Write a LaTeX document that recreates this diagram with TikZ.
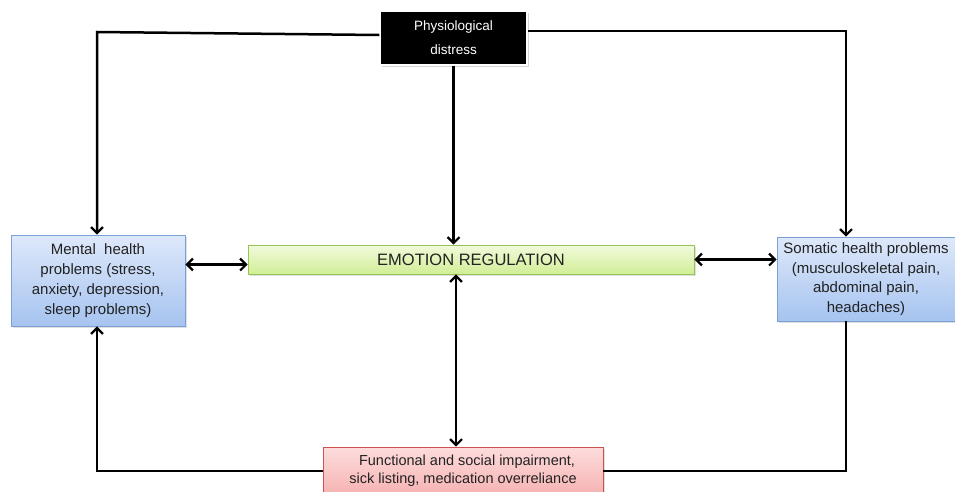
\documentclass[tikz,border=0pt]{standalone}
\usepackage{fontspec}
\setmainfont{Liberation Sans}
\usetikzlibrary{arrows.meta,shadows}
\definecolor{txt}{HTML}{222222}
\tikzset{
  box/.style={rectangle, draw, line width=0.8pt, align=center, text=txt, inner sep=0pt,
     drop shadow={opacity=0.25, shadow xshift=1.5pt, shadow yshift=-1.5pt}},
  bluebox/.style={box, draw={rgb,255:red,122;green,160;blue,214},
     top color={rgb,255:red,222;green,232;blue,250}, bottom color={rgb,255:red,166;green,196;blue,240}},
  greenbox/.style={box, draw={rgb,255:red,150;green,196;blue,84},
     top color={rgb,255:red,242;green,250;blue,220}, bottom color={rgb,255:red,208;green,238;blue,150}},
  redbox/.style={box, draw={rgb,255:red,204;green,82;blue,82},
     top color={rgb,255:red,253;green,220;blue,220}, bottom color={rgb,255:red,246;green,178;blue,178}},
  blackbox/.style={rectangle, fill=black, draw=white, line width=1.2pt, text=white, align=center, inner sep=0pt,
     drop shadow={opacity=0.35, shadow xshift=1.5pt, shadow yshift=-1.5pt}},
  conn/.style={line width=2.5pt, black},
  arr/.style={conn, -{Straight Barb[length=6pt,width=12pt,line width=2.2pt]}},
  darr/.style={conn, {Straight Barb[length=6pt,width=12pt,line width=2.2pt]}-{Straight Barb[length=6pt,width=12pt,line width=2.2pt]}},
}
\begin{document}
\begin{tikzpicture}[x=1pt,y=-1pt]
\useasboundingbox (0,0) rectangle (955,491);
\node[blackbox, minimum width=147pt, minimum height=54pt, font=\fontsize{13.5}{24}\selectfont] (physio) at (453.5,38)
  {Physiological\\ distress};
\node[bluebox, minimum width=174pt, minimum height=91pt, font=\fontsize{15}{20}\selectfont] (mental) at (98,280.5)
  {Mental\ \ health\\ problems (stress,\\ anxiety, depression,\\ sleep problems)};
\node[greenbox, minimum width=446pt, minimum height=29pt, font=\fontsize{16.5}{20}\selectfont] (emotion) at (471,259.5)
  {EMOTION REGULATION};
\node[bluebox, minimum width=178pt, minimum height=84pt, font=\fontsize{15}{19.5}\selectfont] (somatic) at (866,279)
  {Somatic health problems\\ (musculoskeletal pain,\\ abdominal pain,\\ headaches)};
\node[redbox, minimum width=280pt, minimum height=48pt, font=\fontsize{14.5}{18}\selectfont] (functional) at (463,471)
  {\ \ Functional and social impairment,\\ sick listing, medication overreliance};
\coordinate (tl) at (97,32);
% connectors
\draw[arr] ([yshift=3pt]physio.west) -- (tl) -- (tl |- mental.north);
\draw[arr] ([yshift=7pt]physio.east) -| ([xshift=-20pt]somatic.north);
\draw[arr] (physio.south) -- (physio.south |- emotion.north);
\draw[darr] ([yshift=-5pt]mental.east |- emotion.west) -- ([yshift=-5pt]emotion.west);
\draw[darr] (emotion.east) -- (somatic.west |- emotion.east);
\draw[darr] ([xshift=-15pt]emotion.south) -- ([xshift=-15pt]emotion.south |- functional.north);
\draw[arr] (functional.west) -| ([xshift=-1pt]mental.south);
\draw[conn] ([xshift=-20pt]somatic.south) |- (functional.east);
\end{tikzpicture}
\end{document}
